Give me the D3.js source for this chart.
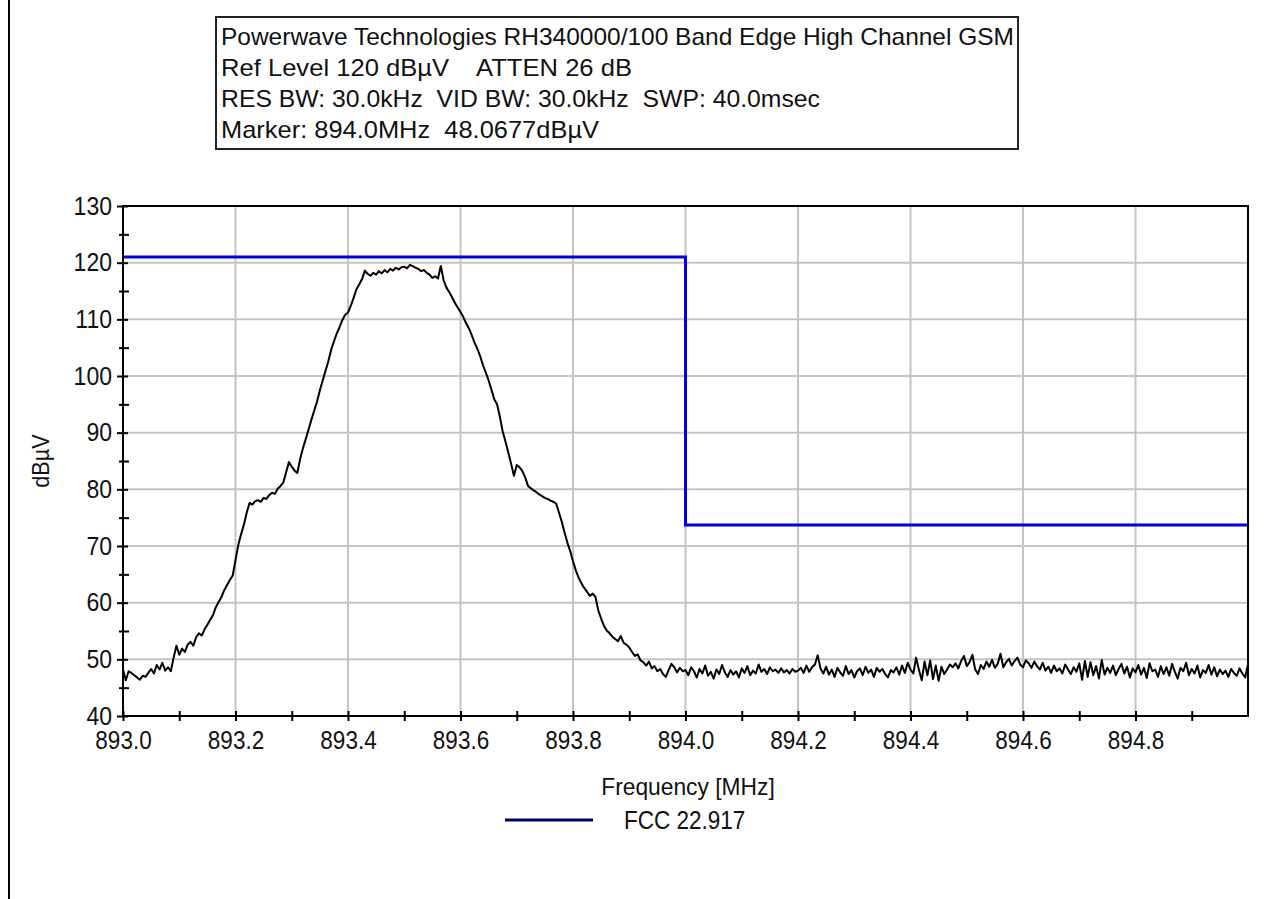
<!DOCTYPE html>
<html>
<head>
<meta charset="utf-8">
<script src="https://cdn.jsdelivr.net/npm/d3@7"></script>
<style>
html,body{margin:0;padding:0;background:#fff;}
svg{display:block;}
text{font-family:"Liberation Sans",Arial,sans-serif;fill:#111;}
</style>
</head>
<body>
<svg id="chart" width="1268" height="899"></svg>
<script>
// ---------- data ----------
const headerLines = [
  "Powerwave Technologies RH340000/100 Band Edge High Channel GSM",
  "Ref Level 120 dBµV    ATTEN 26 dB",
  "RES BW: 30.0kHz  VID BW: 30.0kHz  SWP: 40.0msec",
  "Marker: 894.0MHz  48.0677dBµV"
];
const xTickValues = [893.0, 893.2, 893.4, 893.6, 893.8, 894.0, 894.2, 894.4, 894.6, 894.8];
const xTickLabels = ["893.0","893.2","893.4","893.6","893.8","894.0","894.2","894.4","894.6","894.8"];
const xMinorTicks = [893.1, 893.3, 893.5, 893.7, 893.9, 894.1, 894.3, 894.5, 894.7, 894.9];
const yTickValues = [40, 50, 60, 70, 80, 90, 100, 110, 120, 130];
const yMinorTicks = [45, 55, 65, 75, 85, 95, 105, 115, 125];
const xDomain = [893.0, 895.0];
const yDomain = [40, 130];

// sweep: start frequency and step (MHz); measured trace (dBµV)
const sweepStart = 893.0;
const sweepStep = 0.005;
const traceValues = [
  48.2, 46.3, 47.9, 47.6, 47.2, 46.8, 46.4, 47.1, 46.9, 47.6,
  48.3, 47.5, 49.0, 48.2, 49.4, 48.0, 48.6, 47.9, 50.3, 52.4,
  50.8, 51.9, 51.3, 52.6, 53.1, 52.4, 53.9, 54.6, 54.2, 55.3,
  56.1, 57.0, 57.8, 59.2, 60.1, 61.0, 62.2, 63.1, 64.0, 64.8,
  67.5, 70.2, 72.1, 73.8, 75.9, 77.6, 77.3, 77.9, 78.1, 77.8,
  78.5, 78.3, 79.0, 79.4, 79.2, 80.1, 80.6, 81.2, 83.0, 84.8,
  84.0, 83.3, 82.9, 85.4, 87.3, 88.9, 90.6, 92.3, 93.9, 95.5,
  97.5, 99.2, 100.9, 102.6, 104.6, 106.1, 107.5, 108.6, 109.9, 110.8,
  111.2, 112.4, 113.8, 115.3, 116.2, 117.1, 118.6, 118.0, 117.7, 118.2,
  117.9, 118.5, 118.1, 118.7, 118.3, 118.9, 118.6, 119.1, 118.8, 119.2,
  119.3, 119.0, 119.6, 119.4, 119.1, 118.9, 118.5, 118.7, 118.2, 117.9,
  117.3, 117.6, 117.2, 119.4, 116.9, 115.6, 114.8, 113.9, 112.9, 112.1,
  111.3, 110.4, 109.3, 108.4, 107.2, 105.9, 104.8, 103.5, 101.9, 100.6,
  99.2, 97.6, 95.9, 95.0, 92.8, 90.2, 88.4, 86.5, 84.5, 82.4,
  84.3, 83.9, 83.2, 82.1, 80.6, 80.2, 79.8, 79.5, 79.1, 78.8,
  78.5, 78.3, 78.0, 77.8, 77.5, 75.9, 74.3, 72.4, 70.6, 69.1,
  67.3, 65.7, 64.4, 63.4, 62.6, 61.9, 61.2, 61.6, 61.0, 58.6,
  57.2, 55.9, 55.1, 54.6, 54.0, 53.6, 53.2, 54.1, 52.9, 52.6,
  52.1, 51.3, 50.6, 50.9, 49.8, 49.5, 48.9, 49.6, 48.4, 48.8,
  47.9, 48.3, 47.4, 46.9, 48.1, 49.2, 48.6, 47.7, 48.5, 47.9,
  48.1,
  47.2, 48.6, 47.9, 46.8, 48.3, 47.5, 48.9, 47.1, 47.8, 46.6,
  48.2, 47.4, 49.0, 47.7, 46.9, 48.1, 47.3, 47.9, 46.8, 48.4,
  47.6, 48.8, 47.2, 48.0, 47.5, 49.1, 47.8, 48.3, 47.4, 48.6,
  47.9, 48.2, 47.6, 48.4, 47.7, 48.1, 47.5, 48.3, 47.8, 48.0,
  48.5, 47.6, 48.9, 47.8, 48.6, 49.1, 50.7, 48.4, 47.5, 48.7,
  47.3, 48.2, 46.9, 48.5, 47.7, 47.1, 48.8, 47.4, 48.1, 46.8,
  47.9, 48.4, 47.2, 48.7, 47.6, 48.2, 46.9, 48.5, 47.8, 48.3,
  47.4, 46.8, 48.1, 47.7, 48.6, 47.3, 48.9, 47.6, 49.4, 48.2,
  47.5, 50.3, 48.1, 46.3, 49.6, 47.2, 49.8, 46.5, 48.9, 46.2,
  48.7, 47.4, 48.2, 49.1, 48.6, 49.3, 48.4, 49.7, 50.6, 48.8,
  49.5, 50.8, 48.2, 47.4, 49.0, 48.3, 49.6, 48.7, 49.9, 48.5,
  49.2, 51.0, 48.6, 49.5, 50.1, 48.9, 49.7, 50.3, 49.1, 48.6,
  49.8, 49.3, 48.5, 49.6, 48.8, 48.2, 49.4, 48.0, 48.7, 47.6,
  48.9, 47.9, 48.4, 47.5, 49.1, 48.2, 47.4, 48.6, 47.8, 49.3,
  46.4, 49.7, 46.9, 49.5, 47.2, 48.8, 46.6, 49.9, 47.3, 48.5,
  47.6, 48.9, 47.2, 48.3, 49.2, 47.5, 48.7, 46.8, 48.4, 47.7,
  49.0, 47.3, 48.5, 46.7, 49.3, 47.9, 48.2, 46.9, 48.8, 47.4,
  48.6, 47.1, 49.2, 47.8, 46.6, 48.5, 47.9, 49.4, 47.2, 48.3,
  47.5, 48.9, 46.8, 48.1, 47.6, 49.0, 47.3, 48.6, 47.0, 48.2,
  47.4, 48.0, 46.9, 48.3, 47.6, 47.1, 48.4, 47.5, 46.8, 49.1
];

// FCC 22.917 limit line
const limitFreqs = [893.0, 894.0, 894.0, 895.0];
const limitValues = [121.0, 121.0, 73.7, 73.7];
const legendLabel = "FCC 22.917";
const xTitle = "Frequency [MHz]";
const yTitle = "dBµV";

// ---------- drawing ----------
const svg = d3.select("#chart");
const W = 1268, H = 899;
const plot = {left: 123, right: 1248, top: 206, bottom: 716};

// horizontally condense text to mimic the narrow original face
function condense(sel, factor) {
  sel.each(function () {
    const w = this.getComputedTextLength();
    d3.select(this).attr("textLength", w * factor).attr("lengthAdjust", "spacingAndGlyphs");
  });
}

// outer frame line (left edge)
svg.append("line").attr("x1", 9).attr("x2", 9).attr("y1", 0).attr("y2", H)
  .attr("stroke", "#000").attr("stroke-width", 2);

// header box
const hb = {x: 216, y: 17, w: 802, h: 132};
svg.append("rect").attr("x", hb.x).attr("y", hb.y).attr("width", hb.w).attr("height", hb.h)
  .attr("fill", "#fff").attr("stroke", "#222").attr("stroke-width", 2);
const headerWidths = [793, 411, 599, 378];
const header = svg.append("g");
headerLines.forEach((t, i) => {
  header.append("text")
    .attr("x", hb.x + 5)
    .attr("y", hb.y + 28 + i * 31)
    .attr("font-size", 24)
    .attr("textLength", headerWidths[i])
    .attr("lengthAdjust", "spacingAndGlyphs")
    .style("white-space", "pre")
    .text(t);
});

const x = d3.scaleLinear().domain(xDomain).range([plot.left, plot.right]);
const y = d3.scaleLinear().domain(yDomain).range([plot.bottom, plot.top]);

// grid
const grid = svg.append("g");
grid.selectAll("line.vg").data(xTickValues.slice(1)).join("line")
  .attr("x1", d => x(d)).attr("x2", d => x(d))
  .attr("y1", plot.top).attr("y2", plot.bottom)
  .attr("stroke", "#c4c4c4").attr("stroke-width", 2);
grid.selectAll("line.hg").data(yTickValues.slice(1, -1)).join("line")
  .attr("x1", plot.left).attr("x2", plot.right)
  .attr("y1", d => y(d)).attr("y2", d => y(d))
  .attr("stroke", "#c4c4c4").attr("stroke-width", 2);

// limit line
const limitData = limitFreqs.map((f, i) => [f, limitValues[i]]);
svg.append("path").datum(limitData)
  .attr("fill", "none").attr("stroke", "#0000d8").attr("stroke-width", 3)
  .attr("d", d3.line().x(d => x(d[0])).y(d => y(d[1])));

// trace
const traceData = traceValues.map((v, i) => [sweepStart + i * sweepStep, v]);
svg.append("path").datum(traceData)
  .attr("fill", "none").attr("stroke", "#000").attr("stroke-width", 2)
  .attr("stroke-linejoin", "round")
  .attr("d", d3.line().x(d => x(d[0])).y(d => y(d[1])));

// plot frame
svg.append("rect").attr("x", plot.left).attr("y", plot.top)
  .attr("width", plot.right - plot.left).attr("height", plot.bottom - plot.top)
  .attr("fill", "none").attr("stroke", "#000").attr("stroke-width", 2);

// x axis
const xAxis = svg.append("g").attr("transform", `translate(0,${plot.bottom})`)
  .call(d3.axisBottom(x).tickValues(xTickValues).tickSize(5).tickPadding(10)
    .tickFormat((d, i) => xTickLabels[i]));
xAxis.select(".domain").remove();
xAxis.selectAll(".tick line").attr("y1", -5).attr("stroke", "#000").attr("stroke-width", 2);
xAxis.selectAll(".tick text").attr("font-size", 25).attr("font-family", "Liberation Sans, Arial, sans-serif").attr("fill", "#111");
condense(xAxis.selectAll(".tick text"), 0.9);
const xMinor = svg.append("g").attr("transform", `translate(0,${plot.bottom})`)
  .call(d3.axisBottom(x).tickValues(xMinorTicks).tickSize(5).tickFormat(""));
xMinor.select(".domain").remove();
xMinor.selectAll(".tick line").attr("y1", -5).attr("stroke", "#000").attr("stroke-width", 2);

// y axis
const yAxis = svg.append("g").attr("transform", `translate(${plot.left},0)`)
  .call(d3.axisLeft(y).tickValues(yTickValues).tickSize(6).tickPadding(5).tickFormat(d3.format("d")));
yAxis.select(".domain").remove();
yAxis.selectAll(".tick line").attr("x1", 5).attr("stroke", "#000").attr("stroke-width", 2);
yAxis.selectAll(".tick text").attr("font-size", 25).attr("font-family", "Liberation Sans, Arial, sans-serif").attr("fill", "#111");
condense(yAxis.selectAll(".tick text"), 0.92);
const yMinor = svg.append("g").attr("transform", `translate(${plot.left},0)`)
  .call(d3.axisLeft(y).tickValues(yMinorTicks).tickSize(4).tickFormat(""));
yMinor.select(".domain").remove();
yMinor.selectAll(".tick line").attr("x1", 6).attr("stroke", "#000").attr("stroke-width", 2);

// axis titles
const xt = svg.append("text").attr("x", 688).attr("y", 795).attr("text-anchor", "middle")
  .attr("font-size", 24).text(xTitle);
const yt = svg.append("text").attr("transform", "translate(49,461) rotate(-90)")
  .attr("text-anchor", "middle").attr("font-size", 24).text(yTitle);
condense(xt, 0.95);
condense(yt, 0.9);

// legend
svg.append("line").attr("x1", 505).attr("x2", 593).attr("y1", 820).attr("y2", 820)
  .attr("stroke", "#000066").attr("stroke-width", 3);
const lt = svg.append("text").attr("x", 624).attr("y", 829).attr("font-size", 25).text(legendLabel);
condense(lt, 0.9);
</script>
</body>
</html>
